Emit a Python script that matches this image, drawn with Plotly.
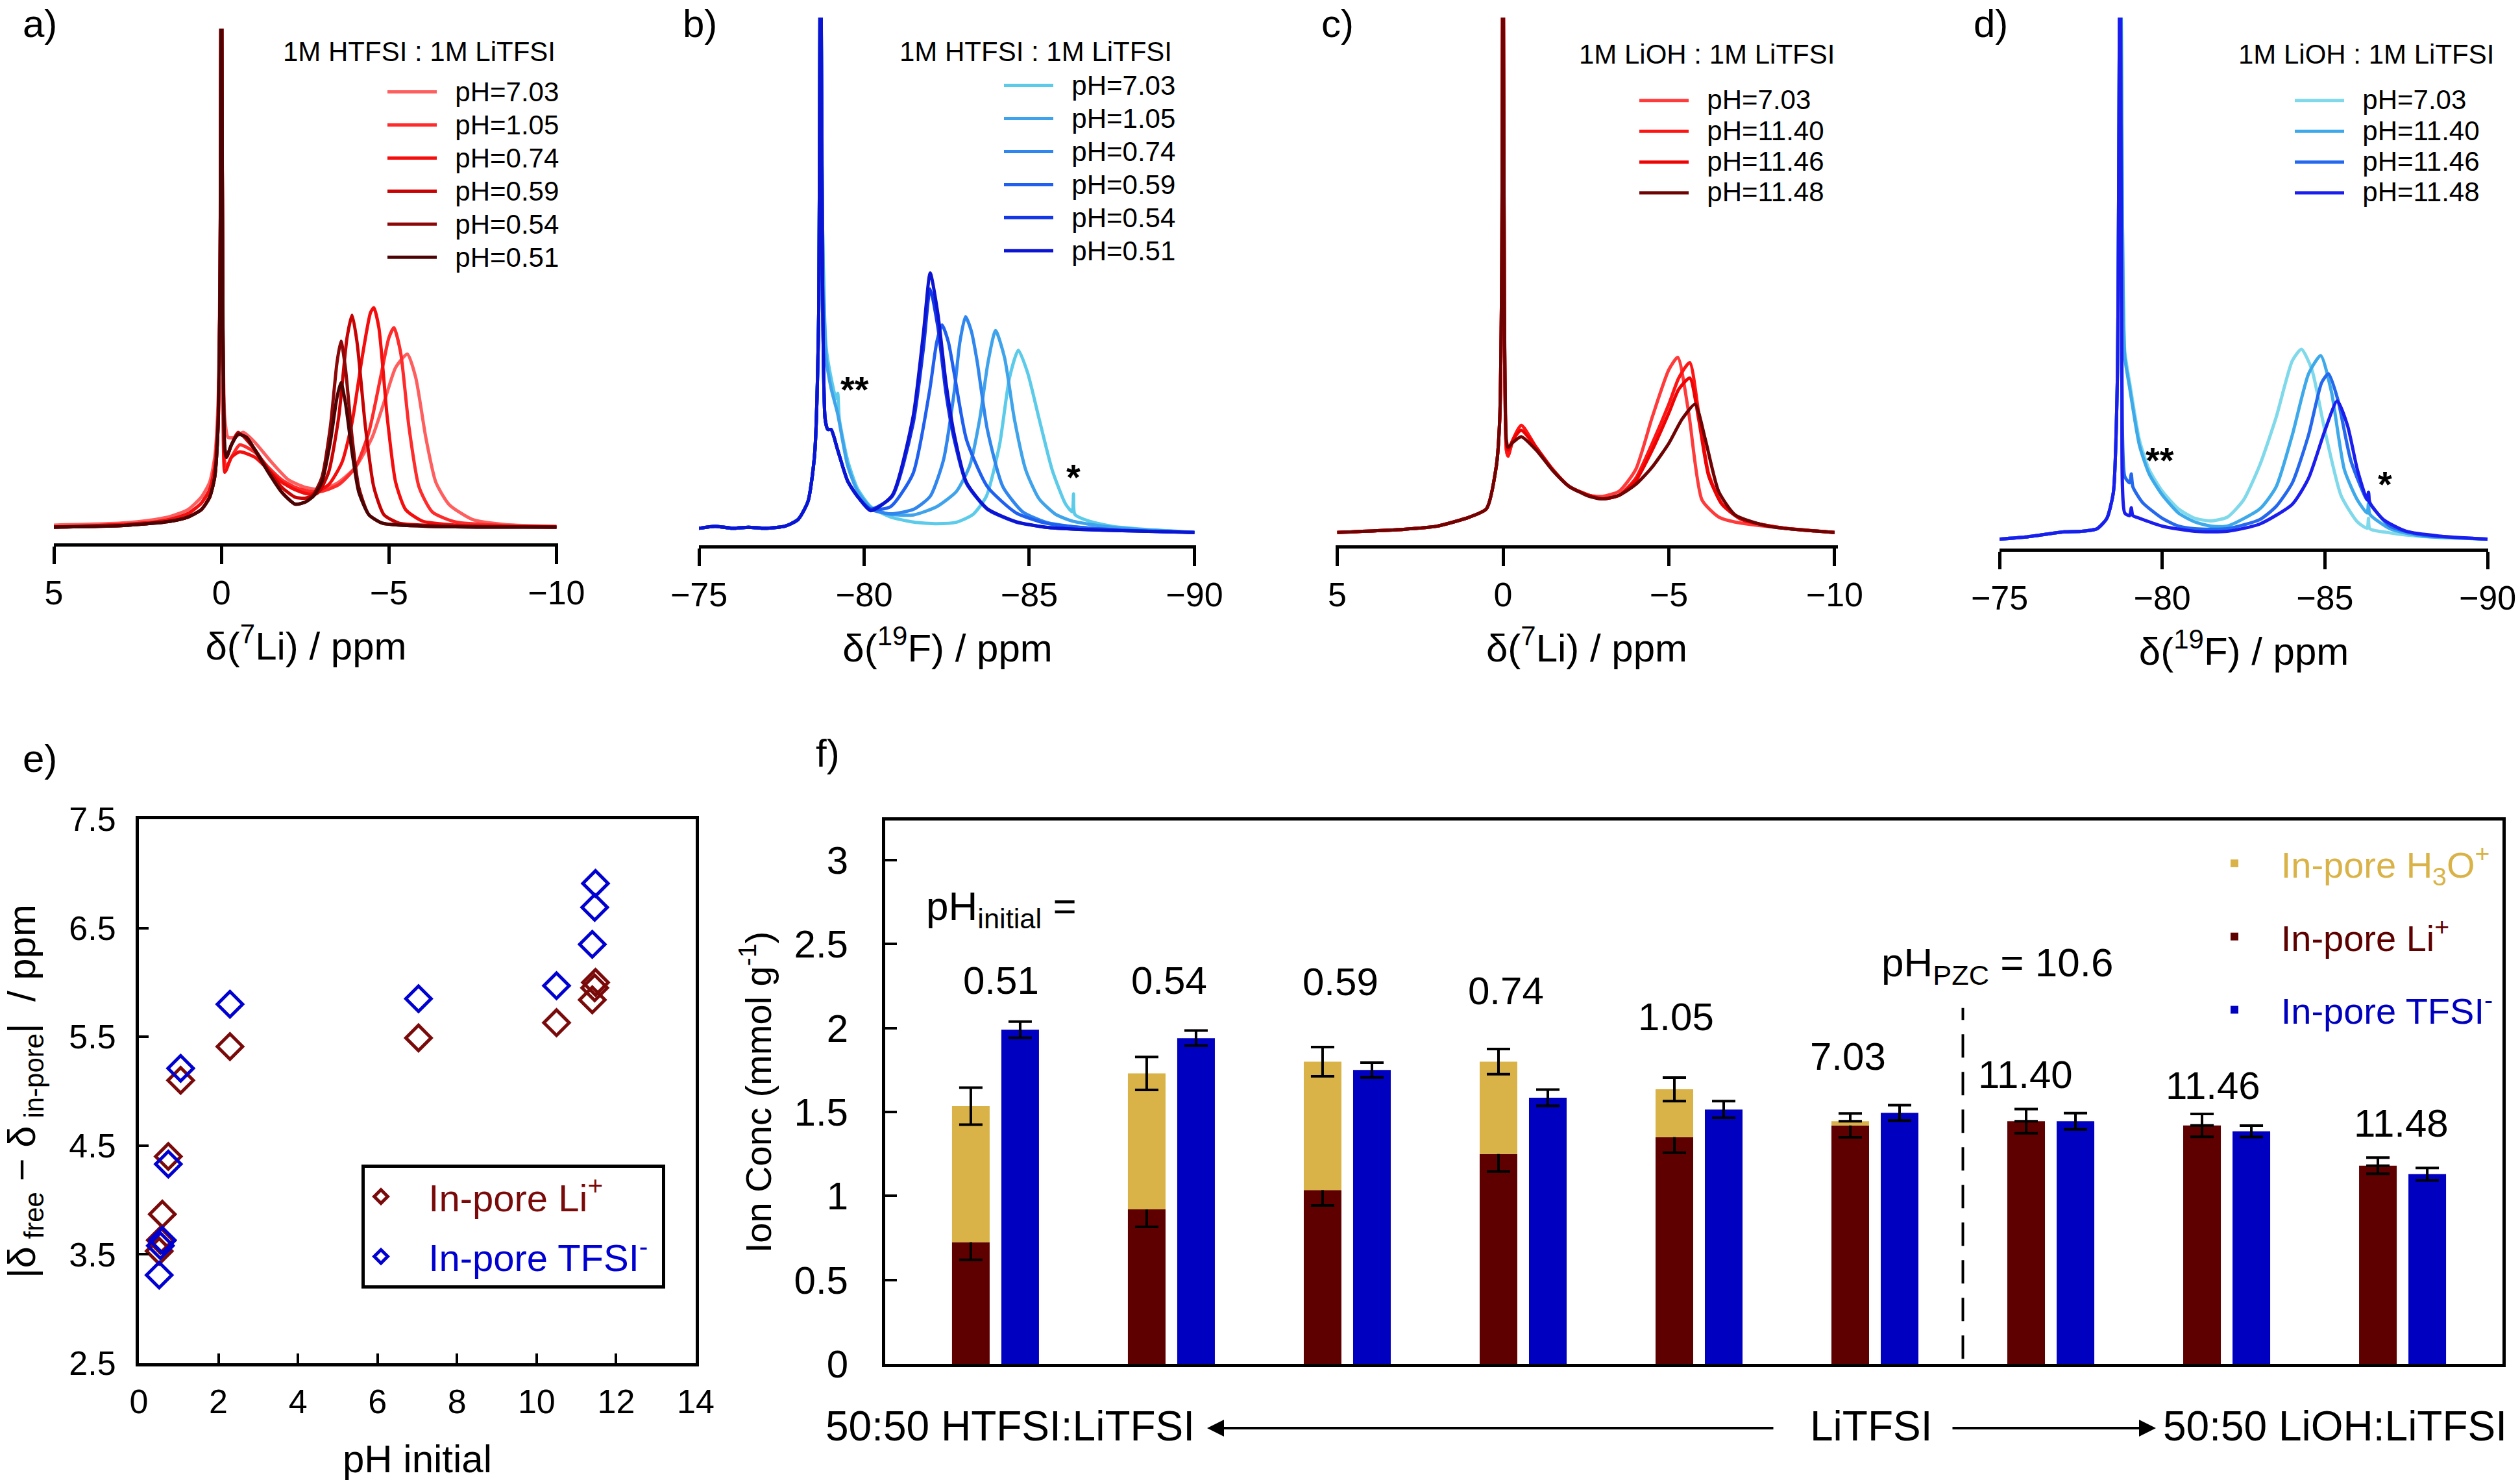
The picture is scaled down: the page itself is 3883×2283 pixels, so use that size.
import plotly.graph_objects as go

W, H = 3883, 2283
SANS = "Liberation Sans, Arial, Helvetica, sans-serif"


def fx(p):
    return p / W


def fy(p):
    return 1 - p / H


# ---------------- DATA ----------------
# Panel a: 7Li NMR, 1M HTFSI : 1M LiTFSI (normalised intensity, baseline = 0)
A_NAMES = ["pH=7.03", "pH=1.05", "pH=0.74", "pH=0.59", "pH=0.54", "pH=0.51"]
A_COLORS = ["#FF5E5E", "#FF2A2A", "#F50C0C", "#C80202", "#8C0707", "#4C0303"]
A_LEFT_PPM = [5.0, 3.0, 2.0, 1.5, 1.0, 0.6, 0.35, 0.2, 0.1, 0.04, 0.0]
A_LEFT_LIGHT = [0.004, 0.008, 0.015, 0.022, 0.035, 0.06, 0.09, 0.14, 0.25, 0.55, 1.3]
A_LEFT_MID = [0.0, 0.005, 0.01, 0.016, 0.027, 0.048, 0.075, 0.12, 0.22, 0.5, 1.3]
A_LEFT_DARK = [0.0, 0.003, 0.008, 0.012, 0.02, 0.035, 0.06, 0.1, 0.2, 0.5, 1.3]

A703_PPM = [-0.04, -0.1, -0.2, -0.4, -0.65, -1.0, -1.5, -2.0, -2.5, -3.0, -3.5, -4.0, -4.5, -4.9, -5.2,
            -5.55, -5.8, -6.1, -6.4, -6.8, -7.5, -8.5, -10.0]
A703_INT = [0.5, 0.22, 0.18, 0.18, 0.19, 0.17, 0.13, 0.095, 0.08, 0.075, 0.09, 0.12, 0.18, 0.26, 0.32,
            0.347, 0.30, 0.18, 0.09, 0.045, 0.015, 0.005, 0.002]
A105_PPM = [-0.04, -0.1, -0.15, -0.3, -0.55, -1.0, -1.4, -1.8, -2.2, -2.6, -3.0, -3.5, -4.0, -4.4, -4.75,
            -5.0, -5.15, -5.35, -5.6, -5.9, -6.3, -7.0, -8.5, -10.0]
A105_INT = [0.45, 0.13, 0.12, 0.14, 0.165, 0.15, 0.12, 0.095, 0.08, 0.072, 0.072, 0.085, 0.12, 0.19, 0.30,
            0.38, 0.40, 0.35, 0.20, 0.08, 0.03, 0.01, 0.003, 0.0]
A074_PPM = [-0.04, -0.1, -0.15, -0.3, -0.55, -1.0, -1.4, -1.8, -2.2, -2.65, -3.2, -3.6, -3.9, -4.2, -4.45,
            -4.55, -4.7, -4.95, -5.2, -5.5, -6.0, -7.0, -8.5, -10.0]
A074_INT = [0.45, 0.11, 0.115, 0.14, 0.151, 0.14, 0.115, 0.09, 0.075, 0.066, 0.085, 0.13, 0.21, 0.34, 0.43,
            0.44, 0.40, 0.22, 0.09, 0.035, 0.012, 0.004, 0.001, 0.0]
A059_PPM = [-0.04, -0.1, -0.15, -0.3, -0.5, -1.0, -1.4, -1.8, -2.2, -2.5, -2.9, -3.2, -3.5, -3.75, -3.9,
            -4.05, -4.3, -4.55, -4.85, -5.3, -6.5, -8.5, -10.0]
A059_INT = [0.45, 0.15, 0.14, 0.165, 0.19, 0.155, 0.115, 0.08, 0.06, 0.058, 0.07, 0.11, 0.22, 0.38, 0.425,
            0.37, 0.20, 0.08, 0.025, 0.008, 0.003, 0.001, 0.0]
A054_PPM = [-0.04, -0.1, -0.15, -0.3, -0.5, -0.75, -1.0, -1.4, -1.8, -2.2, -2.5, -2.75, -3.0, -3.25, -3.45,
            -3.57, -3.7, -3.9, -4.1, -4.4, -4.8, -6.0, -8.0, -10.0]
A054_INT = [0.45, 0.16, 0.14, 0.165, 0.186, 0.18, 0.155, 0.11, 0.07, 0.046, 0.05, 0.065, 0.1, 0.2, 0.33,
            0.373, 0.32, 0.18, 0.08, 0.025, 0.008, 0.002, 0.0, 0.0]
A051_PPM = [-0.04, -0.1, -0.15, -0.3, -0.5, -0.75, -1.0, -1.4, -1.8, -2.2, -2.5, -2.75, -3.0, -3.25, -3.45,
            -3.57, -3.7, -3.9, -4.1, -4.4, -4.8, -6.0, -8.0, -10.0]
A051_INT = [0.45, 0.16, 0.14, 0.165, 0.186, 0.18, 0.155, 0.11, 0.07, 0.046, 0.05, 0.062, 0.09, 0.17, 0.26,
            0.29, 0.25, 0.15, 0.07, 0.025, 0.008, 0.002, 0.0, 0.0]

# Panel b: 19F NMR, 1M HTFSI : 1M LiTFSI
B_NAMES = ["pH=7.03", "pH=1.05", "pH=0.74", "pH=0.59", "pH=0.54", "pH=0.51"]
B_COLORS = ["#5CCBEA", "#3FA3EC", "#2F86EE", "#1F60F0", "#1336E6", "#0A14D2"]
B_LEFT_PPM = [-75.0, -75.5, -76.0, -76.5, -77.0, -77.6, -78.0, -78.3, -78.5, -78.62, -78.68]
B_LEFT_INT = [0.008, 0.012, 0.008, 0.01, 0.008, 0.012, 0.025, 0.06, 0.15, 0.4, 1.3]

B703_PPM = [-78.74, -78.85, -79.0, -79.15, -79.2, -79.25, -79.5, -79.8, -80.2, -80.8, -81.5, -82.2, -82.8,
            -83.3, -83.7, -84.1, -84.4, -84.67, -84.95, -85.3, -85.7, -86.1, -86.3, -86.34, -86.38, -86.8,
            -87.5, -88.5, -90.0]
B703_INT = [0.6, 0.36, 0.30, 0.26, 0.27, 0.22, 0.14, 0.085, 0.05, 0.03, 0.02, 0.017, 0.02,
            0.035, 0.07, 0.17, 0.30, 0.354, 0.31, 0.22, 0.12, 0.055, 0.04, 0.075, 0.035, 0.022,
            0.012, 0.006, 0.0]
B105_PPM = [-78.74, -78.85, -79.0, -79.2, -79.5, -79.8, -80.2, -80.8, -81.5, -82.2, -82.8, -83.2, -83.5,
            -83.75, -83.98, -84.25, -84.55, -84.9, -85.3, -85.8, -86.3, -86.8, -87.5, -88.5, -90.0]
B105_INT = [0.6, 0.34, 0.28, 0.23, 0.13, 0.08, 0.048, 0.035, 0.034, 0.05, 0.08, 0.13, 0.22,
            0.33, 0.392, 0.34, 0.22, 0.12, 0.065, 0.035, 0.022, 0.016, 0.01, 0.005, 0.0]
B074_PPM = [-78.74, -78.82, -78.9, -79.0, -79.2, -79.5, -79.8, -80.2, -80.8, -81.5, -82.0, -82.4, -82.73,
            -82.9, -83.07, -83.25, -83.42, -83.73, -84.2, -84.8, -85.5, -86.5, -88.0, -90.0]
B074_INT = [0.5, 0.22, 0.2, 0.2, 0.16, 0.1, 0.07, 0.045, 0.036, 0.045, 0.07, 0.14, 0.274,
            0.37, 0.419, 0.39, 0.333, 0.2, 0.089, 0.04, 0.02, 0.01, 0.004, 0.0]
B059_PPM = [-78.74, -78.82, -78.9, -79.0, -79.2, -79.5, -79.8, -80.2, -80.8, -81.48, -81.98, -82.2, -82.36,
            -82.55, -82.73, -83.1, -83.73, -84.6, -85.5, -86.5, -88.0, -90.0]
B059_INT = [0.5, 0.22, 0.2, 0.2, 0.16, 0.1, 0.07, 0.045, 0.05, 0.114, 0.274, 0.37, 0.403,
            0.37, 0.308, 0.18, 0.089, 0.038, 0.018, 0.01, 0.004, 0.0]
B054_PPM = [-78.74, -78.82, -78.9, -79.0, -79.2, -79.5, -79.8, -80.2, -80.85, -81.48, -81.8, -82.0, -82.23,
            -82.48, -82.73, -83.1, -83.73, -84.6, -85.5, -86.5, -88.0, -90.0]
B054_INT = [0.5, 0.22, 0.2, 0.2, 0.16, 0.1, 0.07, 0.045, 0.07, 0.21, 0.36, 0.473, 0.40,
            0.27, 0.18, 0.095, 0.045, 0.02, 0.01, 0.006, 0.003, 0.0]
B051_PPM = [-78.74, -78.82, -78.9, -79.0, -79.2, -79.5, -79.8, -80.2, -80.85, -81.48, -81.8, -82.0, -82.23,
            -82.48, -82.73, -83.1, -83.73, -84.6, -85.5, -86.5, -88.0, -90.0]
B051_INT = [0.5, 0.22, 0.2, 0.2, 0.16, 0.1, 0.07, 0.042, 0.072, 0.224, 0.39, 0.504, 0.426,
            0.29, 0.19, 0.097, 0.046, 0.021, 0.01, 0.006, 0.003, 0.0]

# Panel c: 7Li NMR, 1M LiOH : 1M LiTFSI
C_NAMES = ["pH=7.03", "pH=11.40", "pH=11.46", "pH=11.48"]
C_COLORS = ["#FF3A3A", "#FF1414", "#EE0202", "#6E0303"]
C_LEFT_PPM = [5.0, 3.0, 2.0, 1.0, 0.5, 0.2, 0.1, 0.04, 0.0]
C_LEFT_INT = [0.0, 0.006, 0.012, 0.03, 0.046, 0.13, 0.22, 0.5, 1.3]
C703_PPM = [-0.04, -0.1, -0.15, -0.3, -0.55, -1.0, -1.5, -2.0, -2.6, -3.0, -3.5, -4.0, -4.5, -5.0, -5.27,
            -5.6, -6.0, -6.5, -7.0, -8.5, -10.0]
C703_INT = [0.45, 0.16, 0.148, 0.18, 0.208, 0.165, 0.122, 0.089, 0.072, 0.07, 0.08, 0.122, 0.224, 0.316, 0.34,
            0.232, 0.063, 0.03, 0.02, 0.008, 0.0]
C1140_PPM = [-0.04, -0.1, -0.15, -0.3, -0.55, -1.0, -1.5, -2.0, -2.6, -3.0, -3.5, -4.0, -4.5, -5.0, -5.3,
             -5.63, -5.9, -6.2, -6.6, -7.2, -8.5, -10.0]
C1140_INT = [0.45, 0.16, 0.148, 0.18, 0.208, 0.165, 0.122, 0.089, 0.072, 0.065, 0.072, 0.105, 0.173, 0.249, 0.30,
             0.33, 0.232, 0.114, 0.055, 0.025, 0.008, 0.0]
C1146_PPM = [-0.04, -0.1, -0.15, -0.3, -0.55, -1.0, -1.5, -2.0, -2.6, -3.0, -3.5, -4.0, -4.5, -5.0, -5.3,
             -5.63, -5.9, -6.2, -6.6, -7.2, -8.5, -10.0]
C1146_INT = [0.45, 0.17, 0.16, 0.18, 0.198, 0.165, 0.122, 0.089, 0.072, 0.065, 0.072, 0.10, 0.16, 0.232, 0.278,
             0.30, 0.22, 0.11, 0.055, 0.025, 0.008, 0.0]
C1148_PPM = [-0.04, -0.1, -0.15, -0.3, -0.55, -1.0, -1.5, -2.0, -2.6, -3.0, -3.5, -4.0, -4.5, -5.0, -5.4,
             -5.79, -6.1, -6.5, -7.0, -8.0, -10.0]
C1148_INT = [0.45, 0.18, 0.165, 0.175, 0.186, 0.16, 0.12, 0.089, 0.07, 0.065, 0.072, 0.093, 0.127, 0.173, 0.22,
             0.249, 0.181, 0.08, 0.034, 0.012, 0.0]

# Panel d: 19F NMR, 1M LiOH : 1M LiTFSI
D_NAMES = ["pH=7.03", "pH=11.40", "pH=11.46", "pH=11.48"]
D_COLORS = ["#7FD9EA", "#3DA9EA", "#2468EE", "#1A1DEE"]
D_LEFT_PPM = [-75.0, -75.8, -76.5, -77.0, -77.5, -78.0, -78.3, -78.5, -78.62, -78.71]
D_LEFT_INT = [0.0, 0.004, 0.01, 0.014, 0.015, 0.02, 0.04, 0.09, 0.3, 1.3]
D703_PPM = [-78.78, -78.85, -79.0, -79.3, -79.6, -80.0, -80.5, -81.0, -81.5, -82.0, -82.5, -83.0, -83.5,
            -84.0, -84.28, -84.6, -85.0, -85.5, -86.0, -86.3, -86.34, -86.38, -87.0, -88.0, -90.0]
D703_INT = [0.6, 0.36, 0.30, 0.19, 0.133, 0.092, 0.058, 0.04, 0.035, 0.042, 0.075, 0.142, 0.233,
            0.342, 0.364, 0.325, 0.208, 0.083, 0.033, 0.021, 0.04, 0.02, 0.012, 0.005, 0.0]
D1140_PPM = [-78.78, -78.85, -79.0, -79.3, -79.6, -80.0, -80.5, -81.0, -81.5, -82.0, -83.0, -83.5, -84.0,
             -84.5, -84.87, -85.2, -85.6, -86.0, -86.3, -86.34, -86.38, -87.0, -88.0, -90.0]
D1140_INT = [0.6, 0.35, 0.29, 0.18, 0.125, 0.085, 0.05, 0.033, 0.025, 0.025, 0.058, 0.10, 0.20,
             0.317, 0.352, 0.283, 0.133, 0.075, 0.05, 0.07, 0.048, 0.02, 0.006, 0.0]
D1146_PPM = [-78.76, -78.85, -79.0, -79.05, -79.1, -79.4, -80.0, -80.5, -81.0, -82.0, -83.0, -83.5, -84.0,
             -84.5, -84.9, -85.11, -85.4, -85.8, -86.3, -86.34, -86.38, -87.0, -88.0, -90.0]
D1146_INT = [0.4, 0.12, 0.108, 0.125, 0.1, 0.07, 0.04, 0.025, 0.02, 0.02, 0.0375, 0.0625, 0.108,
             0.2, 0.3, 0.317, 0.267, 0.15, 0.075, 0.09, 0.07, 0.025, 0.008, 0.0]
D1148_PPM = [-78.76, -78.85, -79.0, -79.05, -79.1, -79.3, -80.0, -81.0, -82.0, -83.0, -84.0, -84.5, -85.0,
             -85.38, -85.7, -86.0, -86.3, -86.34, -86.38, -86.8, -87.5, -88.5, -90.0]
D1148_INT = [0.3, 0.05, 0.045, 0.06, 0.045, 0.04, 0.025, 0.015, 0.015, 0.029, 0.067, 0.117, 0.208,
             0.265, 0.217, 0.133, 0.075, 0.09, 0.07, 0.0375, 0.015, 0.006, 0.0]

# Panel e: |delta_free - delta_in-pore| vs pH initial
E_PH = [0.51, 0.54, 0.59, 0.74, 1.05, 2.29, 7.03, 10.5, 11.40, 11.46, 11.48]
E_LI = [3.53, 3.63, 3.87, 4.40, 5.10, 5.41, 5.49, 5.63, 5.84, 5.95, 6.00]
E_TFSI = [3.31, 3.58, 3.63, 4.33, 5.21, 5.80, 5.85, 5.97, 6.35, 6.69, 6.91]

# Panel f: in-pore ion concentrations (mmol/g)
F_CATS = ["0.51", "0.54", "0.59", "0.74", "1.05", "7.03", "11.40", "11.46", "11.48"]
F_LI = [0.725, 0.92, 1.035, 1.25, 1.35, 1.42, 1.445, 1.42, 1.18]
F_LI_ERR = [0.105, 0.104, 0.092, 0.105, 0.093, 0.071, 0.072, 0.068, 0.048]
F_H3O = [0.81, 0.81, 0.765, 0.55, 0.285, 0.025, 0.0, 0.0, 0.0]
F_H3O_ERR = [0.11, 0.098, 0.087, 0.075, 0.07, None, None, None, None]
F_TFSI = [1.99, 1.94, 1.75, 1.585, 1.515, 1.495, 1.445, 1.385, 1.13]
F_TFSI_ERR = [0.048, 0.045, 0.044, 0.048, 0.05, 0.046, 0.048, 0.034, 0.037]
F_PH_PZC = 10.6

LI_COL = "#5E0000"
TFSI_COL = "#0000C0"
H3O_COL = "#D9B347"
E_LI_COL = "#7A0A0A"
E_TFSI_COL = "#0000D0"

# ---------------- FIGURE ----------------
fig = go.Figure()
NBSP = "\u00a0"


def spec(xa, ya, ppm, inten, name, color, legend):
    label = f'<span style="font-size:42px">{NBSP * 2}{name}</span>'
    fig.add_trace(go.Scatter(
        x=ppm, y=inten, mode="lines", name=label, xaxis=xa, yaxis=ya, legend=legend,
        line=dict(color=color, width=5, shape="spline", smoothing=0.6), hoverinfo="skip"))


a_sets = [(A_LEFT_LIGHT, A703_PPM, A703_INT), (A_LEFT_MID, A105_PPM, A105_INT),
          (A_LEFT_MID, A074_PPM, A074_INT), (A_LEFT_DARK, A059_PPM, A059_INT),
          (A_LEFT_DARK, A054_PPM, A054_INT), (A_LEFT_DARK, A051_PPM, A051_INT)]
for (left, rp, ri), nm, col in zip(a_sets, A_NAMES, A_COLORS):
    spec("x", "y", A_LEFT_PPM + rp, left + ri, nm, col, "legend")

b_sets = [(B703_PPM, B703_INT), (B105_PPM, B105_INT), (B074_PPM, B074_INT),
          (B059_PPM, B059_INT), (B054_PPM, B054_INT), (B051_PPM, B051_INT)]
for (rp, ri), nm, col in zip(b_sets, B_NAMES, B_COLORS):
    spec("x2", "y2", B_LEFT_PPM + rp, B_LEFT_INT + ri, nm, col, "legend2")

c_sets = [(C703_PPM, C703_INT), (C1140_PPM, C1140_INT), (C1146_PPM, C1146_INT), (C1148_PPM, C1148_INT)]
for (rp, ri), nm, col in zip(c_sets, C_NAMES, C_COLORS):
    spec("x3", "y3", C_LEFT_PPM + rp, C_LEFT_INT + ri, nm, col, "legend3")

d_sets = [(D703_PPM, D703_INT), (D1140_PPM, D1140_INT), (D1146_PPM, D1146_INT), (D1148_PPM, D1148_INT)]
for (rp, ri), nm, col in zip(d_sets, D_NAMES, D_COLORS):
    spec("x4", "y4", D_LEFT_PPM + rp, D_LEFT_INT + ri, nm, col, "legend4")

# panel e
fig.add_trace(go.Scatter(
    x=E_PH, y=E_LI, mode="markers", xaxis="x5", yaxis="y5", legend="legend5",
    name=f'<span style="color:{E_LI_COL}">{NBSP * 3}In-pore Li<sup>+</sup></span>', legendgroup="eli",
    marker=dict(symbol="diamond-open", size=30, color=E_LI_COL, line=dict(width=5, color=E_LI_COL)),
    cliponaxis=False))
fig.add_trace(go.Scatter(
    x=E_PH, y=E_TFSI, mode="markers", xaxis="x5", yaxis="y5", legend="legend5",
    name=f'<span style="color:{E_TFSI_COL}">{NBSP * 3}In-pore TFSI<sup>-</sup>{NBSP}</span>',
    legendgroup="etfsi",
    marker=dict(symbol="diamond-open", size=30, color=E_TFSI_COL, line=dict(width=5, color=E_TFSI_COL)),
    cliponaxis=False))

# panel f
err_style = dict(type="data", color="black", thickness=4, width=18)
fig.add_trace(go.Bar(
    x=F_CATS, y=F_LI, offsetgroup="li", marker=dict(color=LI_COL, line=dict(width=0)),
    error_y=dict(array=F_LI_ERR, **err_style), xaxis="x6", yaxis="y6", legend="legend6",
    name=f'<span style="color:{LI_COL}">{NBSP * 3}In-pore Li<sup>+</sup></span>', legendrank=2,
    legendgroup="fli"))
fig.add_trace(go.Bar(
    x=F_CATS, y=F_H3O, base=F_LI, offsetgroup="li", marker=dict(color=H3O_COL, line=dict(width=0)),
    error_y=dict(array=F_H3O_ERR, **err_style), xaxis="x6", yaxis="y6", legend="legend6",
    name=f'<span style="color:{H3O_COL}">{NBSP * 3}In-pore H<sub>3</sub>O<sup>+</sup></span>', legendrank=1,
    legendgroup="fh3o"))
fig.add_trace(go.Bar(
    x=F_CATS, y=F_TFSI, offsetgroup="tfsi", marker=dict(color=TFSI_COL, line=dict(width=0)),
    error_y=dict(array=F_TFSI_ERR, **err_style), xaxis="x6", yaxis="y6", legend="legend6",
    name=f'<span style="color:{TFSI_COL}">{NBSP * 3}In-pore TFSI<sup>-</sup></span>', legendrank=3,
    legendgroup="ftfsi"))

# ---------------- AXES ----------------
TICKF = dict(size=52, family=SANS, color="black")
TITLEF = dict(size=60, family=SANS, color="black")


def spec_x(px0, px1, rng, tv, title, anchor):
    return dict(domain=[fx(px0), fx(px1)], range=rng, tickvals=tv, anchor=anchor,
                showline=True, linewidth=5, linecolor="black", ticks="outside", ticklen=27,
                tickwidth=5, tickcolor="black", tickfont=TICKF, ticklabelstandoff=0,
                title=dict(text=title, font=TITLEF, standoff=34),
                showgrid=False, zeroline=False, fixedrange=True)


def spec_y(py0, py1, rng, anchor):
    return dict(domain=[fy(py1), fy(py0)], range=rng, visible=False, anchor=anchor, fixedrange=True)


LI_T = "δ(<sup>7</sup>Li) / ppm"
F_T = "δ(<sup>19</sup>F) / ppm"
layout = dict(
    width=W, height=H, margin=dict(l=0, r=0, t=0, b=0, autoexpand=False),
    paper_bgcolor="white", plot_bgcolor="white",
    showlegend=True, barmode="group", bargap=0.439, bargroupgap=0.237,
    font=dict(family=SANS, color="black", size=40),
    xaxis=spec_x(83, 860, [5.0, -10.05], [5, 0, -5, -10], LI_T, "y"),
    yaxis=spec_y(44, 837, [-0.0326, 1.0], "x"),
    xaxis2=spec_x(1077, 1843, [-75.0, -90.05], [-75, -80, -85, -90], F_T, "y2"),
    yaxis2=spec_y(27, 840, [-0.025, 1.0], "x2"),
    xaxis3=spec_x(2058, 2832, [5.05, -10.1], [5, 0, -5, -10], LI_T, "y3"),
    yaxis3=spec_y(27, 840, [-0.025, 1.0], "x3"),
    xaxis4=spec_x(3081, 3834, [-75.0, -90.02], [-75, -80, -85, -90], F_T, "y4"),
    yaxis4=spec_y(27, 845, [-0.018, 1.0], "x4"),
    xaxis5=dict(domain=[fx(214), fx(1072)], range=[0, 14], tickvals=list(range(0, 15, 2)), anchor="y5",
                showline=True, mirror=True, linewidth=5, linecolor="black", ticks="inside", ticklen=15,
                tickwidth=4, tickcolor="black", tickfont=TICKF, ticklabelstandoff=10,
                title=dict(text="pH initial", font=TITLEF, standoff=40),
                showgrid=False, zeroline=False, fixedrange=True),
    yaxis5=dict(domain=[fy(2100), fy(1262)], range=[2.5, 7.5], tickvals=[2.5, 3.5, 4.5, 5.5, 6.5, 7.5],
                anchor="x5", showline=True, mirror=True, linewidth=5, linecolor="black", ticks="inside",
                ticklen=15, tickwidth=4, tickcolor="black", tickfont=TICKF, ticklabelstandoff=20,
                title=dict(text="|δ<sub> free</sub> − δ<sub> in-pore</sub>|  / ppm", font=TITLEF, standoff=49),
                showgrid=False, zeroline=False, fixedrange=True),
    xaxis6=dict(domain=[fx(1364), fx(3856)], type="category", range=[-0.627, 8.568], anchor="y6",
                showline=True, mirror=True, linewidth=5, linecolor="black", ticks="", showticklabels=False,
                showgrid=False, zeroline=False, fixedrange=True),
    yaxis6=dict(domain=[fy(2101), fy(1264)], range=[0, 3.236], tickvals=[0, 0.5, 1, 1.5, 2, 2.5, 3],
                anchor="x6", showline=True, mirror=True, linewidth=5, linecolor="black", ticks="inside",
                ticklen=18, tickwidth=4, tickcolor="black", tickfont=dict(size=60, family=SANS, color="black"),
                ticklabelstandoff=40,
                title=dict(text="Ion Conc (mmol g<sup>-1</sup>)", font=dict(size=56, family=SANS, color="black"),
                           standoff=18),
                showgrid=False, zeroline=False, fixedrange=True),
)

LEG = dict(bgcolor="rgba(0,0,0,0)", borderwidth=0, xanchor="left", yanchor="top", itemwidth=76,
           tracegroupgap=0)
layout["legend"] = dict(LEG, x=fx(592), y=fy(111), font=dict(size=36.9, family=SANS, color="black"))
layout["legend2"] = dict(LEG, x=fx(1542), y=fy(101), font=dict(size=36.9, family=SANS, color="black"))
layout["legend3"] = dict(LEG, x=fx(2521), y=fy(126), font=dict(size=34.2, family=SANS, color="black"))
layout["legend4"] = dict(LEG, x=fx(3531), y=fy(126), font=dict(size=34.2, family=SANS, color="black"))
layout["legend5"] = dict(bgcolor="white", bordercolor="black", borderwidth=5, xanchor="left", yanchor="top",
                         x=fx(557), y=fy(1794), font=dict(size=58, family=SANS), itemwidth=40,
                         tracegroupgap=14)
layout["legend6"] = dict(bgcolor="rgba(0,0,0,0)", borderwidth=0, xanchor="left", yanchor="top",
                         x=fx(3418), y=fy(1287), font=dict(size=56, family=SANS), itemwidth=40,
                         tracegroupgap=37)
fig.update_layout(**layout)

# ---------------- ANNOTATIONS ----------------


def note(text, px, py, size, color="black", xanchor="center", yanchor="middle", bold=False):
    fig.add_annotation(text=f"<b>{text}</b>" if bold else text, x=fx(px), y=fy(py), xref="paper",
                       yref="paper", showarrow=False, xanchor=xanchor, yanchor=yanchor,
                       font=dict(size=size, family=SANS, color=color))


for lab, px, py in [("a)", 61, 37), ("b)", 1078, 37), ("c)", 2061, 37), ("d)", 3067, 37),
                    ("e)", 62, 1168), ("f)", 1275, 1160)]:
    note(lab, px, py, 60)

note("1M HTFSI : 1M LiTFSI", 646, 79, 42)
note("1M HTFSI : 1M LiTFSI", 1596, 79, 42)
note("1M LiOH : 1M LiTFSI", 2630, 84, 42)
note("1M LiOH : 1M LiTFSI", 3646, 84, 42)

note("**", 1317, 600, 56, bold=True)
note("*", 1654, 735, 56, bold=True)
note("**", 3328, 708, 56, bold=True)
note("*", 3675, 745, 56, bold=True)

# pH labels above bar groups (x = category index)
LABEL_Y = [2.283, 2.283, 2.275, 2.22, 2.068, 1.832, 1.724, 1.657, 1.434]
LABEL_SHIFT = [9, -3, -10, -26, -35, -42, -39, -21, -2]
for i, (cat, yv, sh) in enumerate(zip(F_CATS, LABEL_Y, LABEL_SHIFT)):
    fig.add_annotation(text=cat, x=i, y=yv, xref="x6", yref="y6", showarrow=False, xshift=sh,
                       font=dict(size=60, family=SANS, color="black"))

note("pH<sub>initial</sub> =", 1425, 1400, 62, xanchor="left")
note(f"pH<sub>PZC</sub> = {F_PH_PZC}", 2897, 1487, 62, xanchor="left")

fig.add_shape(type="line", xref="x6", yref="y6", x0=5.5, x1=5.5, y0=0.03, y1=2.12,
              line=dict(color="black", width=4, dash="36px,22px"))

# bottom composition arrows
note("50:50 HTFSI:LiTFSI", 1556, 2197, 64)
note("LiTFSI", 2883, 2197, 64)
note("50:50 LiOH:LiTFSI", 3598, 2197, 64)
fig.add_annotation(x=fx(1860), y=fy(2200), ax=2734 - 1860, ay=0, xref="paper", yref="paper",
                   showarrow=True, arrowhead=2, arrowsize=1.3, arrowwidth=4, arrowcolor="black", text="",
                   font=dict(size=20))
fig.add_annotation(x=fx(3322), y=fy(2200), ax=3007 - 3322, ay=0, xref="paper", yref="paper",
                   showarrow=True, arrowhead=2, arrowsize=1.3, arrowwidth=4, arrowcolor="black", text="",
                   font=dict(size=20))

fig.write_html("out.html", config={"displayModeBar": False},
               post_script="document.body.style.margin='0';document.body.style.overflow='hidden';")
